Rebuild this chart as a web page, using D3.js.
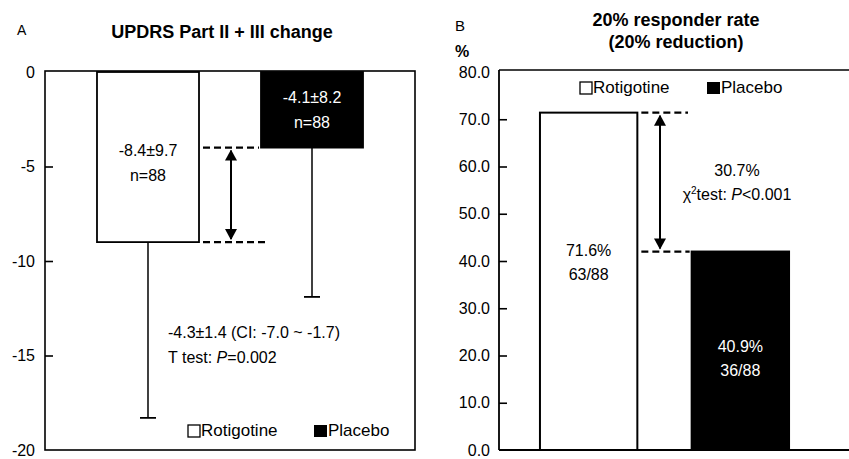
<!DOCTYPE html>
<html>
<head>
<meta charset="utf-8">
<script src="https://cdn.jsdelivr.net/npm/d3@7"></script>
<style>
  html, body { margin: 0; padding: 0; background: #fff; }
  svg { display: block; font-family: "Liberation Sans", Arial, Helvetica, sans-serif; }
</style>
</head>
<body>
<svg id="chart" width="849" height="459"></svg>
<script>
// ---------------- data ----------------
const groups = ["Rotigotine", "Placebo"];
// Panel A: UPDRS Part II + III change (bar heights as drawn)
const updrsChange = [-9.0, -4.0];
const updrsWhiskerEnd = [-18.3, -11.9];
const updrsMeanLabels = ["-8.4±9.7", "-4.1±8.2"];
const updrsNLabels = ["n=88", "n=88"];
const updrsTicks = [0, -5, -10, -15, -20];
const updrsTickLabels = ["0", "-5", "-10", "-15", "-20"];
// Panel B: 20% responder rate
const responderRate = [71.4, 42.0];
const responderPctLabels = ["71.6%", "40.9%"];
const responderFracLabels = ["63/88", "36/88"];
const responderTicks = [0, 10, 20, 30, 40, 50, 60, 70, 80];
const responderTickLabels = ["0.0", "10.0", "20.0", "30.0", "40.0", "50.0", "60.0", "70.0", "80.0"];

const fills = ["#ffffff", "#000000"];
const textFills = ["#000000", "#ffffff"];

const svg = d3.select("#chart");

// arrow markers
const defs = svg.append("defs");
function marker(id, orient) {
  defs.append("marker")
    .attr("id", id).attr("viewBox", "0 0 12 12")
    .attr("refX", 6).attr("refY", 1).attr("markerWidth", 12).attr("markerHeight", 12)
    .attr("markerUnits", "userSpaceOnUse").attr("orient", orient)
    .append("path").attr("d", "M0,11 L6,0 L12,11 Z").attr("fill", "#000");
}
marker("arrowUp", "0");
marker("arrowDown", "180");

// ================= Panel A =================
const aLeft = 45, aRight = 415, aTop = 72, aBottom = 450;
const yA = d3.scaleLinear().domain([0, -20]).range([aTop, aBottom]);
const xA = d3.scaleBand().domain(groups).range([aLeft, aRight]).paddingInner(0.378).paddingOuter(0.317);

const gA = svg.append("g");

// frame
gA.append("rect").attr("x", aLeft).attr("y", aTop - 1).attr("width", aRight - aLeft).attr("height", aBottom - aTop + 1)
  .attr("fill", "none").attr("stroke", "#000").attr("stroke-width", 1.6);

// axis
const axA = d3.axisLeft(yA).tickValues(updrsTicks).tickFormat((d, i) => updrsTickLabels[i]).tickSizeInner(-8).tickSizeOuter(0).tickPadding(10);
const axAG = gA.append("g").attr("transform", `translate(${aLeft},0)`).call(axA);
axAG.select(".domain").remove();
axAG.selectAll(".tick line").attr("stroke", "#000").attr("stroke-width", 1.6);
axAG.selectAll(".tick text").attr("font-size", 16).attr("fill", "#000").attr("font-family", "Liberation Sans, Arial, sans-serif");
axAG.selectAll(".tick").filter(d => d === 0 || d === -20).select("line").remove();

// whiskers
groups.forEach((g, i) => {
  const cx = xA(g) + xA.bandwidth() / 2;
  gA.append("line").attr("x1", cx).attr("x2", cx).attr("y1", yA(updrsChange[i])).attr("y2", yA(updrsWhiskerEnd[i]))
    .attr("stroke", "#000").attr("stroke-width", 1.5);
  gA.append("line").attr("x1", cx - 8).attr("x2", cx + 8).attr("y1", yA(updrsWhiskerEnd[i])).attr("y2", yA(updrsWhiskerEnd[i]))
    .attr("stroke", "#000").attr("stroke-width", 1.8);
});

// bars
gA.selectAll("rect.bar").data(groups).join("rect").attr("class", "bar")
  .attr("x", d => xA(d)).attr("width", xA.bandwidth())
  .attr("y", yA(0)).attr("height", (d, i) => yA(updrsChange[i]) - yA(0))
  .attr("fill", (d, i) => fills[i]).attr("stroke", "#000").attr("stroke-width", 1.8);

// bar labels
groups.forEach((g, i) => {
  const cx = xA(g) + xA.bandwidth() / 2;
  const y0 = i === 0 ? 156 : 103;
  gA.append("text").attr("x", cx).attr("y", y0).attr("text-anchor", "middle").attr("font-size", 16)
    .attr("fill", textFills[i]).text(updrsMeanLabels[i]);
  gA.append("text").attr("x", cx).attr("y", y0 + 25).attr("text-anchor", "middle").attr("font-size", 16)
    .attr("fill", textFills[i]).text(updrsNLabels[i]);
});

// dashed reference lines + arrow
const aDashX0 = xA(groups[0]) + xA.bandwidth() + 4;
gA.append("line").attr("x1", aDashX0).attr("x2", xA(groups[1]) - 2).attr("y1", yA(updrsChange[1])).attr("y2", yA(updrsChange[1]))
  .attr("stroke", "#000").attr("stroke-width", 2.2).attr("stroke-dasharray", "7,4");
gA.append("line").attr("x1", aDashX0).attr("x2", xA(groups[1]) + 6).attr("y1", yA(updrsChange[0])).attr("y2", yA(updrsChange[0]))
  .attr("stroke", "#000").attr("stroke-width", 2.2).attr("stroke-dasharray", "7,4");
const aArrowX = 231;
gA.append("line").attr("x1", aArrowX).attr("x2", aArrowX).attr("y1", yA(updrsChange[1]) + 3).attr("y2", yA(updrsChange[0]) - 3)
  .attr("stroke", "#000").attr("stroke-width", 2)
  .attr("marker-start", "url(#arrowUp)").attr("marker-end", "url(#arrowDown)");

// annotation
gA.append("text").attr("x", 168).attr("y", 338).attr("font-size", 16).text("-4.3±1.4 (CI: -7.0 ~ -1.7)");
const tA = gA.append("text").attr("x", 168).attr("y", 363).attr("font-size", 16);
tA.append("tspan").text("T test: ");
tA.append("tspan").attr("font-style", "italic").text("P");
tA.append("tspan").text("=0.002");

// legend
function legend(g, x0, x1, y) {
  g.append("rect").attr("x", x0).attr("y", y - 11).attr("width", 12).attr("height", 12)
    .attr("fill", "#fff").attr("stroke", "#000").attr("stroke-width", 1.3);
  g.append("text").attr("x", x0 + 13).attr("y", y).attr("font-size", 17).text(groups[0]);
  g.append("rect").attr("x", x1).attr("y", y - 11).attr("width", 13).attr("height", 12).attr("fill", "#000");
  g.append("text").attr("x", x1 + 14).attr("y", y).attr("font-size", 17).text(groups[1]);
}
legend(gA, 188, 314, 436);

// titles
svg.append("text").attr("x", 17).attr("y", 35).attr("font-size", 14).text("A");
svg.append("text").attr("x", 222).attr("y", 38).attr("text-anchor", "middle").attr("font-size", 18).attr("font-weight", "bold")
  .text("UPDRS Part II + III change");

// ================= Panel B =================
const bLeft = 499, bRight = 830, bTop = 72, bBottom = 450;
const yB = d3.scaleLinear().domain([0, 80]).range([bBottom, bTop]);
const xB = d3.scaleBand().domain(groups).range([bLeft, bRight]).paddingInner(0.358).paddingOuter(0.27);

const gB = svg.append("g");
gB.append("line").attr("x1", bLeft).attr("x2", 849).attr("y1", bTop - 2).attr("y2", bTop - 2).attr("stroke", "#000").attr("stroke-width", 1.6);
gB.append("line").attr("x1", bLeft).attr("x2", 849).attr("y1", bBottom).attr("y2", bBottom).attr("stroke", "#000").attr("stroke-width", 1.8);

const axB = d3.axisLeft(yB).tickValues(responderTicks).tickFormat((d, i) => responderTickLabels[i]).tickSizeInner(-8).tickSizeOuter(0).tickPadding(9);
const axBG = gB.append("g").attr("transform", `translate(${bLeft},0)`).call(axB);
axBG.select(".domain").attr("stroke", "#000").attr("stroke-width", 1.8).attr("d", `M0,${bTop - 2}V${bBottom}`);
axBG.selectAll(".tick line").attr("stroke", "#000").attr("stroke-width", 1.6);
axBG.selectAll(".tick text").attr("font-size", 16).attr("fill", "#000").attr("font-family", "Liberation Sans, Arial, sans-serif");
axBG.selectAll(".tick").filter(d => d === 0 || d === 80).select("line").remove();

// bars
gB.selectAll("rect.bar").data(groups).join("rect").attr("class", "bar")
  .attr("x", d => xB(d)).attr("width", xB.bandwidth())
  .attr("y", (d, i) => yB(responderRate[i])).attr("height", (d, i) => yB(0) - yB(responderRate[i]))
  .attr("fill", (d, i) => fills[i]).attr("stroke", "#000").attr("stroke-width", 2);

// bar labels
groups.forEach((g, i) => {
  const cx = xB(g) + xB.bandwidth() / 2;
  const y0 = i === 0 ? 256 : 352;
  gB.append("text").attr("x", cx).attr("y", y0).attr("text-anchor", "middle").attr("font-size", 16)
    .attr("fill", textFills[i]).text(responderPctLabels[i]);
  gB.append("text").attr("x", cx).attr("y", y0 + 24).attr("text-anchor", "middle").attr("font-size", 16)
    .attr("fill", textFills[i]).text(responderFracLabels[i]);
});

// dashed lines + arrow
const bDashX0 = xB(groups[0]) + xB.bandwidth() + 4;
gB.append("line").attr("x1", bDashX0).attr("x2", 688).attr("y1", yB(responderRate[0])).attr("y2", yB(responderRate[0]))
  .attr("stroke", "#000").attr("stroke-width", 2.2).attr("stroke-dasharray", "7,4");
gB.append("line").attr("x1", bDashX0).attr("x2", xB(groups[1]) - 2).attr("y1", yB(responderRate[1])).attr("y2", yB(responderRate[1]))
  .attr("stroke", "#000").attr("stroke-width", 2.2).attr("stroke-dasharray", "7,4");
const bArrowX = 660;
gB.append("line").attr("x1", bArrowX).attr("x2", bArrowX).attr("y1", yB(responderRate[0]) + 3).attr("y2", yB(responderRate[1]) - 3)
  .attr("stroke", "#000").attr("stroke-width", 2)
  .attr("marker-start", "url(#arrowUp)").attr("marker-end", "url(#arrowDown)");

gB.append("text").attr("x", 737).attr("y", 176).attr("text-anchor", "middle").attr("font-size", 16).text("30.7%");
const tB = gB.append("text").attr("x", 737).attr("y", 200).attr("text-anchor", "middle").attr("font-size", 16);
tB.append("tspan").text("χ");
tB.append("tspan").attr("font-size", 10).attr("dy", -6).text("2");
tB.append("tspan").attr("dy", 6).text("test: ");
tB.append("tspan").attr("font-style", "italic").text("P");
tB.append("tspan").text("<0.001");

legend(gB, 580, 707, 93);

svg.append("text").attr("x", 455).attr("y", 31).attr("font-size", 15).text("B");
svg.append("text").attr("x", 455).attr("y", 57).attr("font-size", 16).attr("font-weight", "bold").text("%");
svg.append("text").attr("x", 676).attr("y", 26).attr("text-anchor", "middle").attr("font-size", 18).attr("font-weight", "bold")
  .text("20% responder rate");
svg.append("text").attr("x", 676).attr("y", 48).attr("text-anchor", "middle").attr("font-size", 18).attr("font-weight", "bold")
  .text("(20% reduction)");
</script>
</body>
</html>
